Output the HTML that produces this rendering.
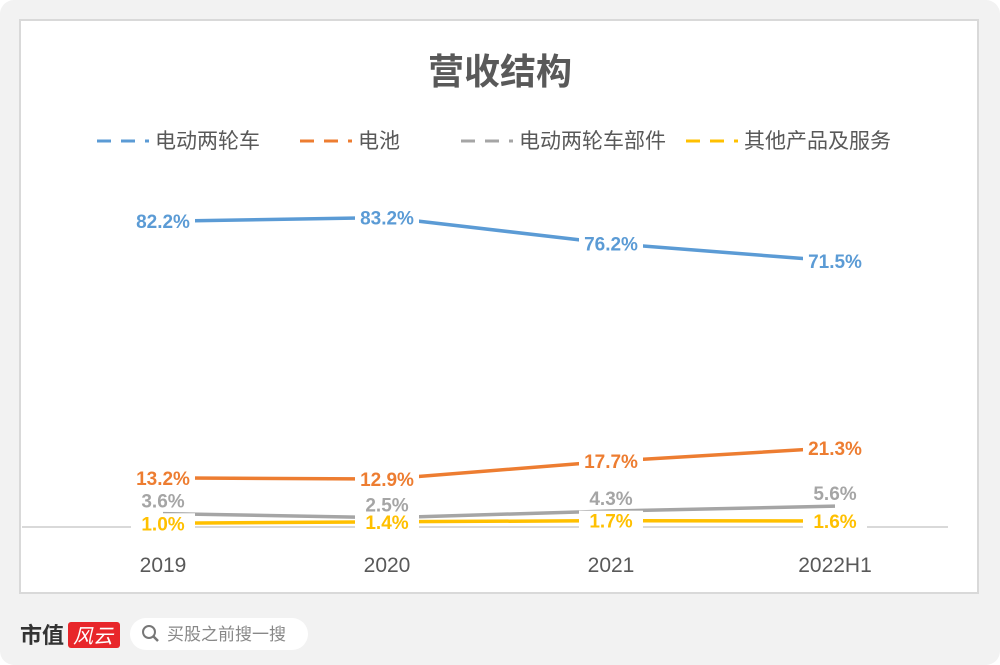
<!DOCTYPE html>
<html><head><meta charset="utf-8"><style>
html,body{margin:0;padding:0;width:1000px;height:665px;overflow:hidden;background:#fff;}
#card{position:absolute;left:0;top:0;width:1000px;height:665px;background:#f2f2f2;border-radius:14px;}
svg{position:absolute;left:0;top:0;}
text{font-family:"Liberation Sans","Noto Sans CJK SC",sans-serif;}
</style></head><body>
<div id="card"></div>
<svg width="1000" height="665" id="chart">
<rect x="20" y="20" width="958" height="573" fill="#fff" stroke="#d9d9d9" stroke-width="2"/>
<text x="500" y="84" text-anchor="middle" font-size="36" font-weight="bold" fill="#595959">营收结构</text>
<g id="legend"></g>
<line x1="22" y1="527" x2="948" y2="527" stroke="#d9d9d9" stroke-width="2"/>
<g id="xlabels"></g>
<g id="series"></g>
<g>
<text x="20" y="643" font-size="22" font-weight="bold" fill="#333" font-family="'Noto Serif CJK SC',serif">市值</text>
<rect x="68" y="622" width="52" height="26" rx="3" fill="#e8262a"/>
<text x="73" y="643" font-size="20" fill="#fff" font-style="italic">风云</text>
<rect x="130" y="618" width="178" height="32" rx="16" fill="#fff"/>
<circle cx="149" cy="632" r="6" fill="none" stroke="#777" stroke-width="2"/>
<line x1="153" y1="636" x2="158" y2="641" stroke="#777" stroke-width="2.5"/>
<text x="167" y="640" font-size="17" fill="#888">买股之前搜一搜</text>
</g>
</svg>
<script>
const categories=["2019","2020","2021","2022H1"];
const seriesNames=["电动两轮车","电池","电动两轮车部件","其他产品及服务"];
const s1=[82.2,83.2,76.2,71.5];
const s2=[13.2,12.9,17.7,21.3];
const s3=[3.6,2.5,4.3,5.6];
const s4=[1.0,1.4,1.7,1.6];
const colors=["#5b9bd5","#ed7d31","#a5a5a5","#ffc000"];
const NS="http://www.w3.org/2000/svg";
function xp(i){return 163+i*224;}
function yp(v){return 527-v*3.72;}
function mk(t,a,p){const e=document.createElementNS(NS,t);for(const k in a)e.setAttribute(k,a[k]);(p||document.getElementById('series')).appendChild(e);return e;}
const lg=document.getElementById('legend');
const lx=[97,300,461,686];
seriesNames.forEach((n,i)=>{
  const g=mk('g',{},lg);
  
  
  mk('line',{x1:lx[i],y1:141,x2:lx[i]+52,y2:141,stroke:colors[i],'stroke-width':3,'stroke-dasharray':'14 10'},g);
  const t=mk('text',{x:lx[i]+58,y:148,'font-size':21,fill:'#595959'},g);t.textContent=n;
});
const xl=document.getElementById('xlabels');
categories.forEach((c,i)=>{const t=mk('text',{x:xp(i),y:572,'text-anchor':'middle','font-size':21,fill:'#595959'},xl);t.textContent=c;

});
const all=[s1,s2,s3,s4];
all.forEach((d,si)=>{
  const p=mk('polyline',{points:d.map((v,i)=>xp(i)+','+yp(v)).join(' '),fill:'none',stroke:colors[si],'stroke-width':3.5,'stroke-linejoin':'round'});
  
  
});
all.forEach((d,si)=>{
  d.forEach((v,i)=>{
    const above=si===2;
    const cy=above?yp(v)-13:yp(v);
    const lbl=v.toFixed(1)+'%';
    if(!above)mk('rect',{x:xp(i)-32,y:cy-10,width:64,height:20,fill:'#fff'});
    const t=mk('text',{x:xp(i),y:cy+7,'text-anchor':'middle','font-size':19,'font-weight':'bold',fill:colors[si]});
    t.textContent=lbl;
    
    
  });
});
</script>
</body></html>
